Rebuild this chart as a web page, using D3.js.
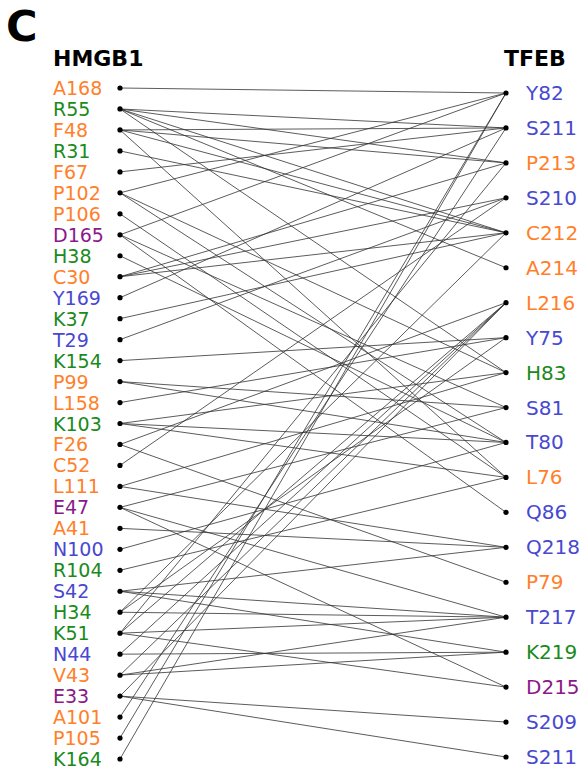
<!DOCTYPE html>
<html lang="en">
<head>
  <meta charset="UTF-8">
  <title>HMGB1 - TFEB contacts</title>
  <style>
    body { margin: 0; background: #fff; }
    #main { width: 582px; height: 771px; }
    text { font-family: "DejaVu Sans", sans-serif; }
  </style>
</head>
<body>
  <div id="main"></div>
  <script src="https://d3js.org/d3.v7.min.js"></script>
  <script>
    // residues on each side, top to bottom
    const hmgb1 = ['A168', 'R55', 'F48', 'R31', 'F67', 'P102', 'P106', 'D165', 'H38', 'C30',
      'Y169', 'K37', 'T29', 'K154', 'P99', 'L158', 'K103', 'F26', 'C52', 'L111', 'E47',
      'A41', 'N100', 'R104', 'S42', 'H34', 'K51', 'N44', 'V43', 'E33', 'A101', 'P105', 'K164']
    const tfeb = ['Y82', 'S211', 'P213', 'S210', 'C212', 'A214', 'L216', 'Y75', 'H83', 'S81',
      'T80', 'L76', 'Q86', 'Q218', 'P79', 'T217', 'K219', 'D215', 'S209', 'S211']

    // contacts: [hmgb1 residue, index in tfeb list]
    const links = [
      ['A168', 0],
      ['R55', 1], ['R55', 2], ['R55', 4], ['R55', 5], ['R55', 8],
      ['F48', 1], ['F48', 2], ['F48', 4], ['F48', 11],
      ['R31', 4],
      ['F67', 1],
      ['P102', 0], ['P102', 8], ['P102', 10],
      ['P106', 11],
      ['D165', 0], ['D165', 9], ['D165', 12],
      ['H38', 10],
      ['C30', 2], ['C30', 3], ['C30', 4],
      ['Y169', 1],
      ['K37', 4],
      ['T29', 3],
      ['K154', 7],
      ['P99', 9], ['P99', 10],
      ['L158', 7],
      ['K103', 8], ['K103', 10], ['K103', 11],
      ['F26', 6], ['F26', 14],
      ['C52', 3],
      ['L111', 8], ['L111', 13],
      ['E47', 9], ['E47', 15], ['E47', 17],
      ['A41', 13],
      ['N100', 10],
      ['R104', 11],
      ['S42', 13], ['S42', 15], ['S42', 16],
      ['H34', 4], ['H34', 7], ['H34', 15],
      ['K51', 2], ['K51', 6], ['K51', 15], ['K51', 17],
      ['N44', 6], ['N44', 16],
      ['V43', 6], ['V43', 15], ['V43', 16],
      ['E33', 6], ['E33', 18], ['E33', 19],
      ['A101', 1],
      ['P105', 0],
      ['K164', 0]
    ]

    // residue class colours
    const classColor = {
      hydrophobic: '#ff7f2a',
      polar: '#4848d0',
      basic: '#1a8a1a',
      acidic: '#8a1a8a'
    }
    const residueClass = r => {
      const a = r[0]
      if ('AFPCLVIMGW'.includes(a)) return 'hydrophobic'
      if ('RKH'.includes(a)) return 'basic'
      if ('DE'.includes(a)) return 'acidic'
      return 'polar'
    }

    const [width, height] = [582, 771]
    const svg = d3.select('#main').append('svg')
      .attr('width', width)
      .attr('height', height)
      .attr('viewBox', `0 0 ${width} ${height}`)

    const xLeft = 120
    const xRight = 506

    const yLeft = d3.scalePoint()
      .domain(d3.range(hmgb1.length))
      .range([88, 759])
    const yRight = d3.scalePoint()
      .domain(d3.range(tfeb.length))
      .range([93, 757])

    // panel letter and column titles
    svg.append('text')
      .attr('x', 6).attr('y', 41)
      .style('font-size', '43px').style('font-weight', 'bold')
      .text('C')
    svg.append('text')
      .attr('x', 53).attr('y', 66)
      .style('font-size', '22px').style('font-weight', 'bold')
      .text('HMGB1')
    svg.append('text')
      .attr('x', 504).attr('y', 66)
      .style('font-size', '22px').style('font-weight', 'bold')
      .text('TFEB')

    // links
    svg.append('g')
      .selectAll('line')
      .data(links)
      .join('line')
      .attr('x1', xLeft)
      .attr('y1', d => yLeft(hmgb1.indexOf(d[0])))
      .attr('x2', xRight)
      .attr('y2', d => yRight(d[1]))
      .attr('stroke', '#333')
      .attr('stroke-opacity', 0.8)
      .attr('stroke-width', 1)

    // left nodes
    const left = svg.append('g')
      .selectAll('g')
      .data(hmgb1)
      .join('g')
      .attr('transform', (d, i) => `translate(0, ${yLeft(i)})`)
    left.append('circle').attr('cx', xLeft).attr('r', 2.6).attr('fill', '#000')
    left.append('text')
      .attr('x', 53).attr('y', 7)
      .style('font-size', '19px')
      .attr('fill', d => classColor[residueClass(d)])
      .text(d => d)

    // right nodes
    const right = svg.append('g')
      .selectAll('g')
      .data(tfeb)
      .join('g')
      .attr('transform', (d, i) => `translate(0, ${yRight(i)})`)
    right.append('circle').attr('cx', xRight).attr('r', 2.6).attr('fill', '#000')
    right.append('text')
      .attr('x', 526).attr('y', 7)
      .style('font-size', '20px')
      .attr('fill', d => classColor[residueClass(d)])
      .text(d => d)
  </script>
</body>
</html>
